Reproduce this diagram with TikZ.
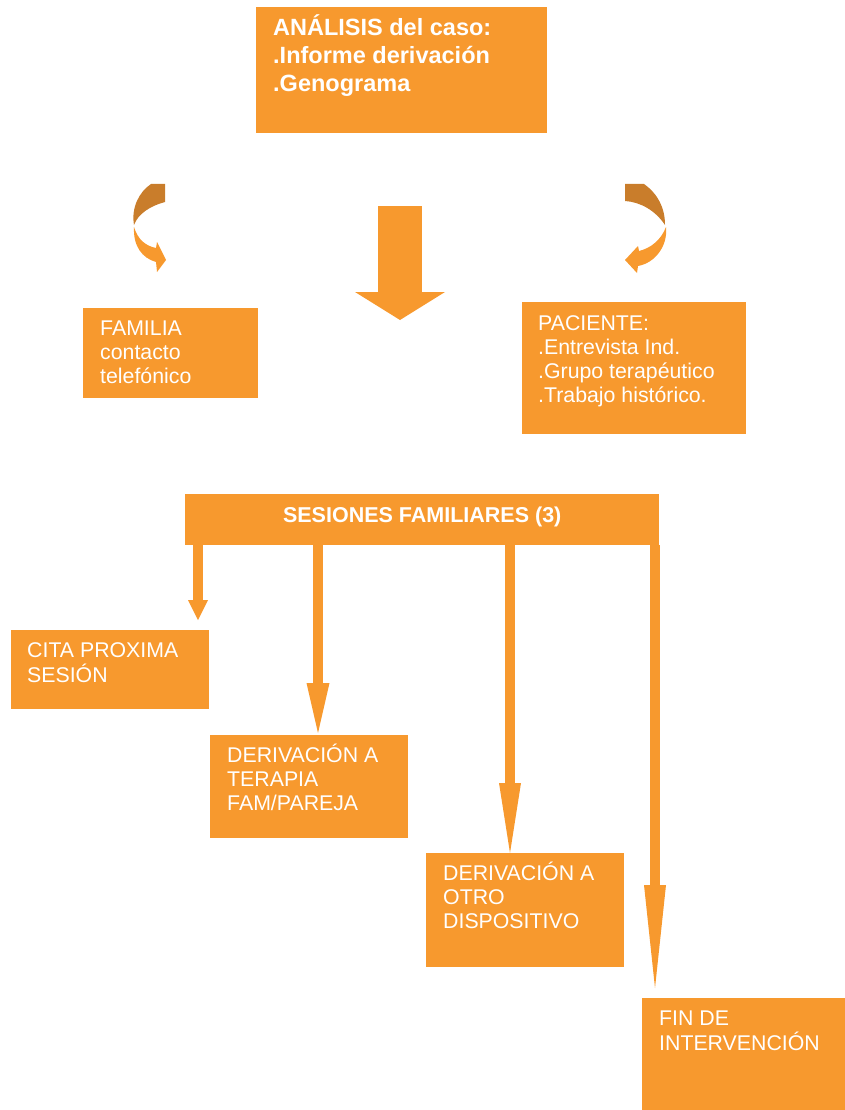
\documentclass[tikz,border=0pt]{standalone}
\usepackage{fontspec}
\setmainfont{Liberation Sans}
\usetikzlibrary{arrows.meta,positioning}
\definecolor{Naranja}{HTML}{F7992E}
\definecolor{Tostado}{HTML}{C97D2B}
\newcommand{\lineas}[1]{\begin{tabular}[t]{@{}l@{}}#1\end{tabular}}

\tikzset{
  caja/.style={fill=Naranja, draw=none, inner sep=0pt, anchor=north west},
  texto/.style={text=white, anchor=base west, inner sep=0pt,
    font=\fontsize{21.3}{24}\selectfont},
  titulo/.style={texto, font=\bfseries\fontsize{23.5}{28}\selectfont},
  flecha/.style={draw=Naranja, line width=10pt},
}

\begin{document}
\begin{tikzpicture}[x=1pt,y=-1pt]
  \useasboundingbox (0,0) rectangle (845,1110);
  % cajas
  \node[caja, minimum width=291pt, minimum height=126pt] (analisis) at (256,7) {};
  \node[caja, minimum width=175pt, minimum height=90pt] (familia) at (83,308) {};
  \node[caja, minimum width=224pt, minimum height=132pt] (paciente) at (522,302) {};
  \node[caja, minimum width=474pt, minimum height=51pt] (sesiones) at (185,494) {};
  \node[caja, minimum width=198pt, minimum height=79pt] (cita) at (11,630) {};
  \node[caja, minimum width=198pt, minimum height=103pt] (terapia) at (210,735) {};
  \node[caja, minimum width=198pt, minimum height=114pt] (otro) at (426,853) {};
  \node[caja, minimum width=203pt, minimum height=112pt] (fin) at (642,998) {};
  % textos
  \node[titulo] (analisisTxt) at ([shift={(17,29)}]analisis.north west)
    {\lineas{ANÁLISIS del caso:\\.Informe derivación\\.Genograma}};
  \node[texto] (familiaTxt) at ([shift={(17,27)}]familia.north west)
    {\lineas{FAMILIA\\contacto\\telefónico}};
  \node[texto] (pacienteTxt) at ([shift={(16,28)}]paciente.north west)
    {\lineas{PACIENTE:\\.Entrevista Ind.\\.Grupo terapéutico\\.Trabajo histórico.}};
  \node[titulo, anchor=base, font=\bfseries\fontsize{21.5}{26}\selectfont]
    (sesionesTxt) at ([yshift=-28pt]sesiones.north) {SESIONES FAMILIARES (3)};
  \node[texto] (citaTxt) at ([shift={(16,27)}]cita.north west)
    {\lineas{CITA PROXIMA\\SESIÓN}};
  \node[texto] (terapiaTxt) at ([shift={(17,27)}]terapia.north west)
    {\lineas{DERIVACIÓN A\\TERAPIA\\FAM/PAREJA}};
  \node[texto] (otroTxt) at ([shift={(17,27)}]otro.north west)
    {\lineas{DERIVACIÓN A\\OTRO\\DISPOSITIVO}};
  \node[texto] (finTxt) at ([shift={(17,27)}]fin.north west)
    {\lineas{FIN DE\\INTERVENCIÓN}};
  % flecha central
  \coordinate (grandeA) at (400,206);
  \coordinate (grandeB) at (400,320);
  \draw[Naranja, line width=44pt,
    -{Triangle[length=28pt,width=90pt,line width=0pt]}] (grandeA) -- (grandeB);
  % flechas curvas
  \fill[Tostado] (151,184) -- (165,184) -- (165,202)
    .. controls (150,206) and (138,214) .. (134,225)
    .. controls (131,208) and (139,192) .. (151,184) -- cycle;
  \fill[Naranja] (134,227) .. controls (138,240) and (146,246) .. (156,248)
    -- (157,242) -- (166,260) -- (157,272) -- (156,262)
    .. controls (142,258) and (133,246) .. (134,227) -- cycle;
  \fill[Tostado] (625,184) -- (644,184)
    .. controls (658,194) and (665,208) .. (665,225)
    .. controls (655,210) and (640,202) .. (625,201) -- cycle;
  \fill[Naranja] (666,227) .. controls (668,246) and (655,263) .. (638,266)
    -- (637,273) -- (625,260) -- (638,246) -- (639,251)
    .. controls (651,248) and (661,240) .. (666,227) -- cycle;
  % flechas de sesiones
  \coordinate (x1) at (198,0);
  \coordinate (x2) at (318,0);
  \coordinate (x3) at (510,0);
  \coordinate (x4) at (655,0);
  \draw[flecha, -{Triangle[length=20pt,width=20pt,line width=0pt]}, shorten >=10pt]
    (sesiones.south -| x1) -- (cita.north -| x1);
  \draw[flecha, -{Triangle[length=50pt,width=23pt,line width=0pt]}, shorten >=2pt]
    (sesiones.south -| x2) -- (terapia.north -| x2);
  \draw[flecha, -{Triangle[length=70pt,width=22pt,line width=0pt]}]
    (sesiones.south -| x3) -- (otro.north -| x3);
  \draw[flecha, -{Triangle[length=103pt,width=22pt,line width=0pt]}, shorten >=10pt]
    (sesiones.south -| x4) -- (fin.north -| x4);
\end{tikzpicture}
\end{document}
